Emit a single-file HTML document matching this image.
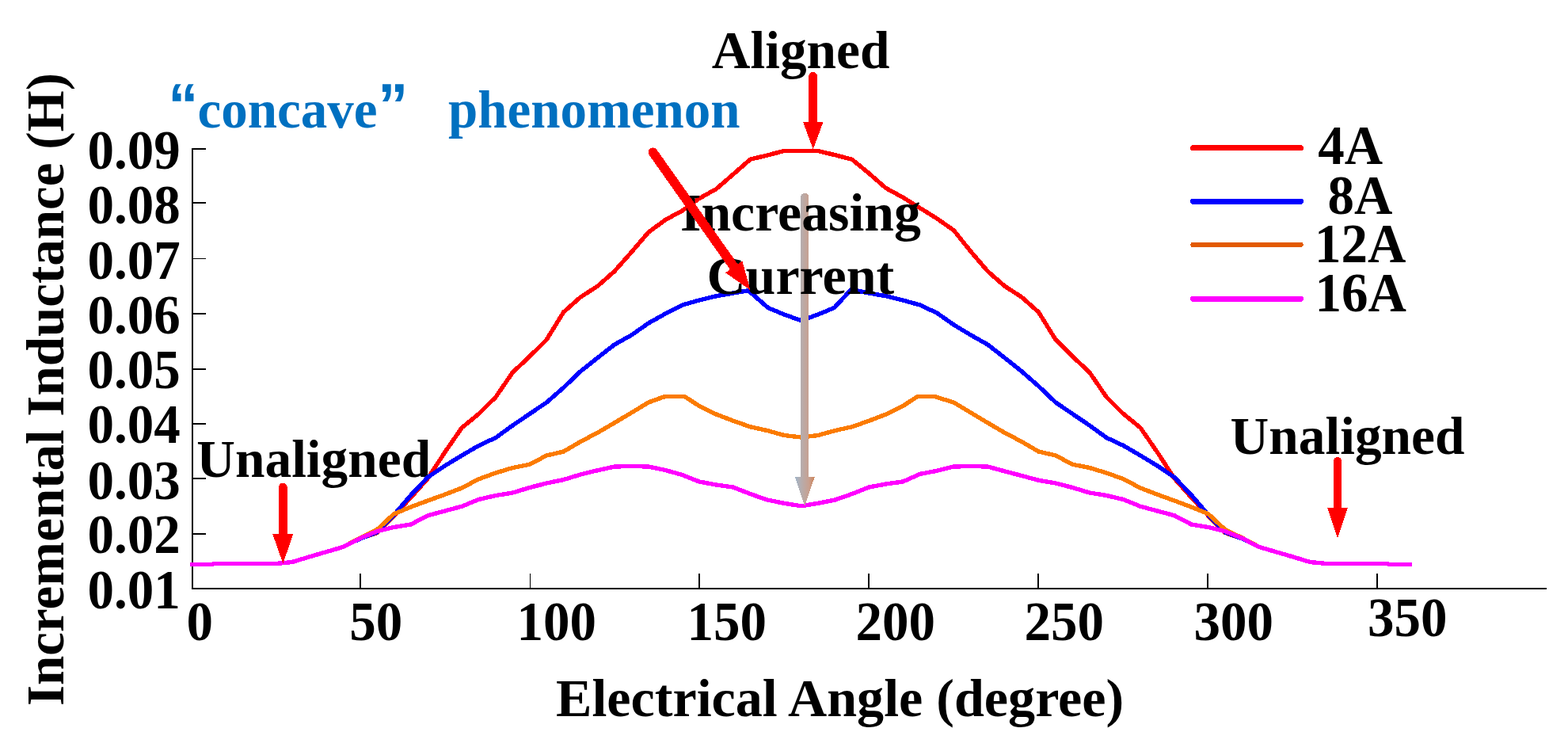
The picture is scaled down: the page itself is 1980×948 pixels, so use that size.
<!DOCTYPE html>
<html lang="en"><head><meta charset="utf-8">
<title>Incremental Inductance vs Electrical Angle</title>
<style>
html,body{margin:0;padding:0;background:#fff;}
body{width:1980px;height:948px;overflow:hidden;}
svg{display:block;}
text{font-family:"Liberation Serif","Times New Roman",Times,serif;font-weight:bold;font-size:67px;fill:#000;}
.blue{fill:#0070c0;}
.q{font-family:"Liberation Sans",Arial,sans-serif;font-size:76px;}
</style></head><body>
<svg width="1980" height="948" viewBox="0 0 1980 948">
<defs><linearGradient id="gg" gradientUnits="userSpaceOnUse" x1="1004" y1="0" x2="1029" y2="0"><stop offset="0" stop-color="#a0b4c8"/><stop offset="0.28" stop-color="#b5aeb0"/><stop offset="0.7" stop-color="#c8a090"/><stop offset="1" stop-color="#cd8458"/></linearGradient></defs>
<rect width="1980" height="948" fill="#fff"/>
<g stroke="#000" stroke-width="2" fill="none" shape-rendering="crispEdges">
<path d="M243 187.2V743.5"/>
<path d="M242 743H1953"/>
<path d="M243 188H260" stroke-width="1.6"/>
<path d="M243 256H260" stroke-width="1.6"/>
<path d="M243 326.5H260" stroke-width="1.6"/>
<path d="M243 396H260" stroke-width="1.6"/>
<path d="M243 466H260" stroke-width="1.6"/>
<path d="M243 535H260" stroke-width="1.6"/>
<path d="M243 604H260" stroke-width="1.6"/>
<path d="M243 674H260" stroke-width="1.6"/>
<path d="M455 724V743" stroke-width="1.6"/>
<path d="M669.4 724V743" stroke-width="1.6"/>
<path d="M883 724V743" stroke-width="1.6"/>
<path d="M1097.2 724V743" stroke-width="1.6"/>
<path d="M1310.8 724V743" stroke-width="1.6"/>
<path d="M1525 724V743" stroke-width="1.6"/>
<path d="M1739.1 724V743" stroke-width="1.6"/>
</g>
<text transform="translate(110.5 212.5) scale(1 1.04)">0.09</text>
<text transform="translate(110.5 281.5) scale(1 1.04)">0.08</text>
<text transform="translate(110.5 351.5) scale(1 1.04)">0.07</text>
<text transform="translate(110.5 420.75) scale(1 1.04)">0.06</text>
<text transform="translate(110.5 490.25) scale(1 1.04)">0.05</text>
<text transform="translate(110.5 559) scale(1 1.04)">0.04</text>
<text transform="translate(110.5 629.5) scale(1 1.04)">0.03</text>
<text transform="translate(110.5 698) scale(1 1.04)">0.02</text>
<text transform="translate(110.5 768) scale(1 1.04)">0.01</text>
<text transform="translate(235.5 808) scale(1 1.04)">0</text>
<text transform="translate(441.3 808) scale(1 1.04)">50</text>
<text transform="translate(652.5 808) scale(1 1.04)">100</text>
<text transform="translate(867.5 808) scale(1 1.04)">150</text>
<text transform="translate(1080.5 808) scale(1 1.04)">200</text>
<text transform="translate(1293.5 808) scale(1 1.04)">250</text>
<text transform="translate(1507.5 808) scale(1 1.04)">300</text>
<text transform="translate(1727 802.5) scale(1 1.04)">350</text>
<text style="font-size:68.1px" x="702" y="904">Electrical Angle (degree)</text>
<text transform="translate(80 891) rotate(-90)">Incremental Inductance (H)</text>
<text style="font-size:67.4px" x="248.3" y="602">Unaligned</text>
<text style="font-size:67.4px" x="1553.6" y="572.5">Unaligned</text>
<text style="font-size:67.4px" x="898.8" y="86">Aligned</text>
<text class="blue"><tspan class="q" x="212.2" y="158.2">“</tspan><tspan x="249.5" y="161">concave</tspan><tspan class="q" x="477.2" y="158.9">”</tspan><tspan x="566" y="161">phenomenon</tspan></text>
<g fill="none" stroke-width="5.4" stroke-linejoin="round" stroke-linecap="butt" shape-rendering="crispEdges">
<polyline stroke="#ff0000" points="240.3,712.60 268.2,712.60 270.3,711.60 283.2,711.60 304.6,711.60 326.0,711.60 347.4,711.60 368.9,709.50 390.3,703.00 411.7,696.75 433.1,690.50 454.6,680.00 476.0,672.50 497.4,651.00 518.8,628.00 540.2,604.00 561.7,571.00 583.1,540.00 604.5,522.50 626.0,501.25 647.4,470.00 668.8,450.00 690.2,428.75 711.7,394.00 733.1,375.00 754.5,361.25 775.9,342.50 797.4,318.30 818.8,293.30 840.2,277.50 861.6,266.00 883.0,250.50 904.5,238.50 925.9,220.00 947.3,201.25 968.8,196.00 990.2,190.50 1011.6,190.50 1033.0,190.50 1054.5,195.70 1075.9,201.25 1097.3,218.80 1118.7,237.50 1140.2,249.20 1161.6,262.50 1183.0,275.80 1204.4,290.80 1225.9,317.50 1247.3,342.50 1268.7,361.25 1290.1,375.00 1311.5,394.00 1333.0,428.75 1354.4,450.00 1375.8,470.00 1397.2,501.25 1418.7,522.50 1440.1,540.00 1461.5,571.00 1483.0,604.00 1504.4,628.00 1525.8,651.00 1547.2,672.50 1568.7,680.00 1590.1,690.50 1611.5,696.75 1632.9,703.00 1654.3,709.50 1675.8,711.60 1697.2,711.60 1718.6,711.60 1740.0,711.60 1751.8,711.60 1754.0,712.60 1782.9,712.60"/>
<polyline stroke="#0000ff" points="240.3,712.60 268.2,712.60 270.3,711.60 283.2,711.60 304.6,711.60 326.0,711.60 347.4,711.60 368.9,709.50 390.3,703.00 411.7,696.75 433.1,690.50 454.6,680.00 476.0,672.00 497.4,650.00 518.8,625.00 540.2,602.50 561.7,588.00 583.1,575.00 604.5,562.50 626.0,552.50 647.4,537.00 668.8,522.50 690.2,508.00 711.7,489.25 733.1,468.75 754.5,451.75 775.9,435.00 797.4,423.00 818.8,408.00 840.2,396.00 861.6,385.00 883.0,379.00 904.5,373.75 925.9,370.00 945.0,366.80 970.0,388.60 990.2,397.00 1011.6,404.60 1033.0,397.00 1053.5,388.50 1074.8,365.50 1097.3,370.00 1118.7,373.75 1140.2,379.00 1161.6,385.00 1183.0,395.00 1204.4,410.00 1225.9,423.00 1247.3,435.00 1268.7,451.75 1290.1,468.75 1311.5,487.50 1333.0,508.00 1354.4,522.50 1375.8,537.00 1397.2,552.50 1418.7,562.50 1440.1,575.00 1461.5,588.00 1483.0,602.50 1504.4,625.00 1525.8,650.00 1547.2,672.00 1568.7,680.00 1590.1,690.50 1611.5,696.75 1632.9,703.00 1654.3,709.50 1675.8,711.60 1697.2,711.60 1718.6,711.60 1740.0,711.60 1751.8,711.60 1754.0,712.60 1782.9,712.60"/>
<polyline stroke="#fb7b00" points="240.3,712.60 268.2,712.60 270.3,711.60 283.2,711.60 304.6,711.60 326.0,711.60 347.4,711.60 368.9,709.50 390.3,703.00 411.7,696.75 433.1,690.50 454.6,679.00 476.0,668.75 497.4,648.75 518.8,640.00 540.2,632.00 561.7,624.25 583.1,616.00 604.5,604.75 626.0,597.00 647.4,590.50 668.8,586.25 690.2,575.00 711.7,570.00 733.1,557.50 754.5,546.25 775.9,533.75 797.4,521.00 818.8,508.00 838.0,501.00 844.3,500.30 864.2,500.30 883.0,512.50 904.5,523.00 925.9,531.25 947.3,538.75 968.8,543.50 990.2,549.50 1011.6,552.00 1033.0,549.50 1054.5,543.50 1075.9,538.75 1097.3,531.25 1118.7,523.00 1140.2,512.50 1158.7,500.40 1179.6,500.40 1204.4,508.00 1225.9,521.00 1247.3,533.75 1268.7,546.25 1290.1,557.50 1311.5,570.00 1333.0,575.00 1354.4,586.25 1375.8,590.50 1397.2,597.00 1418.7,604.75 1440.1,616.00 1461.5,624.25 1483.0,632.00 1504.4,640.00 1525.8,648.75 1547.2,668.75 1568.7,679.00 1590.1,690.50 1611.5,696.75 1632.9,703.00 1654.3,709.50 1675.8,711.60 1697.2,711.60 1718.6,711.60 1740.0,711.60 1751.8,711.60 1754.0,712.60 1782.9,712.60"/>
<polyline stroke="#ff00ff" points="240.3,712.60 268.2,712.60 270.3,711.60 283.2,711.60 304.6,711.60 326.0,711.60 347.4,711.60 368.9,709.50 390.3,703.00 411.7,696.75 433.1,690.50 454.6,679.50 476.0,670.75 497.4,665.50 518.8,662.00 540.2,650.75 561.7,645.00 583.1,639.25 604.5,630.50 626.0,625.50 647.4,622.00 668.8,615.50 690.2,610.00 711.7,605.50 733.1,599.00 754.5,593.75 775.9,589.00 797.4,588.50 818.8,589.00 840.2,593.50 861.6,599.50 883.0,608.00 904.5,612.00 925.9,615.00 947.3,623.50 968.8,631.00 990.2,635.30 1011.6,638.75 1033.0,635.30 1054.5,631.00 1075.9,623.50 1097.3,615.00 1118.7,611.00 1140.2,608.00 1161.6,598.40 1183.0,594.30 1204.4,589.00 1225.9,588.50 1247.3,589.00 1268.7,594.90 1290.1,600.50 1311.5,606.30 1333.0,610.00 1354.4,615.50 1375.8,622.00 1397.2,625.50 1418.7,630.50 1440.1,639.25 1461.5,645.00 1483.0,650.75 1504.4,662.00 1525.8,665.50 1547.2,670.75 1568.7,679.50 1590.1,690.50 1611.5,696.75 1632.9,703.00 1654.3,709.50 1675.8,711.60 1697.2,711.60 1718.6,711.60 1740.0,711.60 1751.8,711.60 1754.0,712.60 1782.9,712.60"/>
</g>
<path shape-rendering="crispEdges" fill="url(#gg)" d="M1011.1 248.85A5.1 5.1 0 0 1 1021.3000000000001 248.85V602H1028.7L1016.2 639L1003.7 602H1011.1Z"/>
<text style="font-size:67.8px" x="859" y="291.25">Increasing</text>
<text style="font-size:68px" x="892.5" y="370.75">Current</text>
<g fill="none" stroke-width="7" stroke-linecap="round" shape-rendering="crispEdges">
<path stroke="#ff0000" stroke-width="7" d="M1506.5 186.5H1642.5"/>
<path stroke="#0000ff" stroke-width="7" d="M1506.5 254.25H1642.5"/>
<path stroke="#e25a00" stroke-width="6.2" d="M1506.5 309H1642.5"/>
<path stroke="#ff00ff" stroke-width="7" d="M1506.5 377.25H1642.5"/>
</g>
<text transform="translate(1664.3 207) scale(1 1.04)">4A</text>
<text transform="translate(1676.5 269.5) scale(1 1.04)">8A</text>
<text transform="translate(1660 330.75) scale(1 1.04)">12A</text>
<text transform="translate(1660.5 393) scale(1 1.04)">16A</text>
<path shape-rendering="crispEdges" fill="#ff0000" d="M1021.25 96.5A5.5 5.5 0 0 1 1032.25 96.5V154H1039.5L1026.75 188.5L1014.0 154H1021.25Z"/>
<path shape-rendering="crispEdges" fill="#ff0000" d="M352.0 614.9A5.3 5.3 0 0 1 362.6 614.9V673.6H370.5L357.3 711.5L344.1 673.6H352.0Z"/>
<path shape-rendering="crispEdges" fill="#ff0000" d="M1683.9 582.1A5.1 5.1 0 0 1 1694.1 582.1V641.25H1701.75L1689.0 679.8L1676.25 641.25H1683.9Z"/>
<g transform="translate(824.6 192.4) rotate(54.735)"><path shape-rendering="crispEdges" fill="#ff0000" d="M0 -5.9A5.9 5.9 0 0 0 0 5.9H176.86V13.0L212.86 0L176.86 -13.0V-5.9Z"/></g>
</svg>
</body></html>
